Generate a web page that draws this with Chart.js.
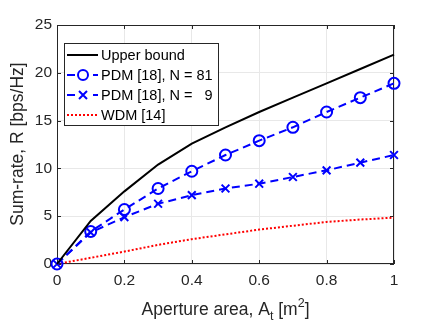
<!DOCTYPE html>
<html>
<head>
<meta charset="utf-8">
<script src="https://cdn.jsdelivr.net/npm/chart.js@4/dist/chart.umd.min.js"></script>
<style>
html, body { margin: 0; padding: 0; background: #fff; }
#wrap { width: 436px; height: 327px; }
</style>
</head>
<body>
<div id="wrap"><canvas id="chart"></canvas></div>
<script>
var aperture = [0, 0.1, 0.2, 0.3, 0.4, 0.5, 0.6, 0.7, 0.8, 0.9, 1];
var upperBound = [0, 4.5, 7.6, 10.4, 12.6, 14.3, 15.9, 17.4, 18.9, 20.4, 21.9];
var pdm81 = [0, 3.4, 5.7, 7.9, 9.7, 11.4, 12.9, 14.3, 15.9, 17.4, 18.9];
var pdm9 = [0, 3.3, 4.9, 6.3, 7.2, 7.9, 8.4, 9.1, 9.8, 10.6, 11.4];
var wdm = [0, 0.65, 1.3, 2.0, 2.6, 3.1, 3.6, 4.0, 4.4, 4.65, 4.85];
var xTicks = [0, 0.2, 0.4, 0.6, 0.8, 1];
var yTicks = [0, 5, 10, 15, 20, 25];
var seriesNames = ['Upper bound', 'PDM [18], N = 81', 'PDM [18], N =   9', 'WDM [14]'];

var FONT = '"Liberation Sans", Arial, sans-serif';
var AXIS = '#262626';

function points(ys) {
    var out = [];
    ys.forEach(function (y, i) {
        out.push({x: aperture[i], y: y});
    });
    return out;
}

// box round the axes with inward ticks, like matlab
var boxPlugin = {
    id: 'box',
    beforeDatasetsDraw: function (chart) {
        var ctx = chart.ctx, a = chart.chartArea;
        var xs = chart.scales.x, ys = chart.scales.y;
        ctx.save();
        ctx.strokeStyle = AXIS;
        ctx.lineWidth = 1;
        ctx.strokeRect(a.left + 0.5, a.top + 0.5, a.right - a.left - 1, a.bottom - a.top - 1);
        ctx.beginPath();
        xTicks.forEach(function (v) {
            var px = Math.round(xs.getPixelForValue(v)) + 0.5;
            ctx.moveTo(px, a.bottom); ctx.lineTo(px, a.bottom - 4);
            ctx.moveTo(px, a.top); ctx.lineTo(px, a.top + 4);
        });
        yTicks.forEach(function (v) {
            var py = Math.round(ys.getPixelForValue(v)) + 0.5;
            ctx.moveTo(a.left, py); ctx.lineTo(a.left + 4, py);
            ctx.moveTo(a.right, py); ctx.lineTo(a.right - 4, py);
        });
        ctx.stroke();
        ctx.restore();
    }
};

// axis titles with sub/superscripts
var titlePlugin = {
    id: 'titles',
    afterDraw: function (chart) {
        var ctx = chart.ctx, a = chart.chartArea;
        ctx.save();
        ctx.fillStyle = AXIS;
        ctx.textBaseline = 'alphabetic';
        var big = '17.5px ' + FONT, small = '12.5px ' + FONT;
        var parts = [
            {t: 'Aperture area, A', f: big, dy: 0},
            {t: 't', f: small, dy: 5},
            {t: ' [m', f: big, dy: 0},
            {t: '2', f: small, dy: -8},
            {t: ']', f: big, dy: 0}
        ];
        var total = 0;
        parts.forEach(function (p) { ctx.font = p.f; total += ctx.measureText(p.t).width; });
        var x = (a.left + a.right) / 2 - total / 2, y = 315;
        parts.forEach(function (p) {
            ctx.font = p.f;
            ctx.textAlign = 'left';
            ctx.fillText(p.t, x, y + p.dy);
            x += ctx.measureText(p.t).width;
        });
        ctx.translate(23, 144);
        ctx.rotate(-Math.PI / 2);
        ctx.font = big;
        ctx.textAlign = 'center';
        ctx.fillText('Sum-rate, R [bps/Hz]', 0, 0);
        ctx.restore();
    }
};

// legend box in the upper left corner
var legendPlugin = {
    id: 'boxLegend',
    afterDraw: function (chart) {
        var ctx = chart.ctx;
        var left = 64, top = 43, w = 154, h = 82;
        ctx.save();
        ctx.fillStyle = '#fff';
        ctx.fillRect(left, top, w, h);
        ctx.strokeStyle = AXIS;
        ctx.lineWidth = 1;
        ctx.strokeRect(left + 0.5, top + 0.5, w, h);
        chart.data.datasets.forEach(function (ds, i) {
            var y = 55 + i * 20;
            ctx.strokeStyle = ds.borderColor;
            ctx.lineWidth = ds.borderWidth;
            ctx.setLineDash(ds.borderDash || []);
            ctx.beginPath();
            ctx.moveTo(67, y); ctx.lineTo(98, y);
            ctx.stroke();
            ctx.setLineDash([]);
            if (ds.pointRadius > 0) {
                ctx.lineWidth = 2;
                ctx.fillStyle = '#fff';
                ctx.fillRect(76, y - 7, 13, 14);
                ctx.beginPath();
                if (ds.pointStyle === 'circle') {
                    ctx.arc(83, y, 5, 0, Math.PI * 2);
                } else {
                    ctx.moveTo(79, y - 4); ctx.lineTo(87, y + 4);
                    ctx.moveTo(79, y + 4); ctx.lineTo(87, y - 4);
                }
                ctx.stroke();
            }
            ctx.fillStyle = '#000';
            ctx.font = '14.5px ' + FONT;
            ctx.textAlign = 'left';
            ctx.textBaseline = 'middle';
            ctx.fillText(ds.label, 101, y + 1);
        });
        ctx.restore();
    }
};

var config = {
    type: 'line',
    data: {
        datasets: [{
            label: seriesNames[0],
            data: points(upperBound),
            borderColor: '#000',
            borderWidth: 2,
            pointRadius: 0,
            clip: false
        }, {
            label: seriesNames[1],
            data: points(pdm81),
            borderColor: '#0000ff',
            borderWidth: 2,
            borderDash: [8, 5],
            pointStyle: 'circle',
            pointRadius: 5.5,
            pointBorderWidth: 2,
            pointBorderColor: '#0000ff',
            pointBackgroundColor: 'rgba(0,0,0,0)',
            clip: false
        }, {
            label: seriesNames[2],
            data: points(pdm9),
            borderColor: '#0000ff',
            borderWidth: 2,
            borderDash: [8, 5],
            pointStyle: 'crossRot',
            pointRadius: 5.5,
            pointBorderWidth: 2,
            pointBorderColor: '#0000ff',
            clip: false
        }, {
            label: seriesNames[3],
            data: points(wdm),
            borderColor: '#ff0000',
            borderWidth: 2,
            borderDash: [2, 2],
            pointRadius: 0,
            clip: false
        }]
    },
    options: {
        responsive: true,
        maintainAspectRatio: false,
        animation: false,
        layout: { padding: { left: 0, top: 25, right: 42, bottom: 0 } },
        plugins: {
            legend: { display: false },
            tooltip: { enabled: false }
        },
        scales: {
            x: {
                type: 'linear',
                min: 0,
                max: 1,
                afterFit: function (s) { s.height = 63; },
                afterBuildTicks: function (s) {
                    s.ticks = xTicks.map(function (v) { return {value: v}; });
                },
                ticks: {
                    color: AXIS,
                    font: { family: FONT, size: 15.5 },
                    padding: 7,
                    maxRotation: 0,
                    callback: function (v) { return String(v); }
                },
                grid: { color: '#e8e8e8', drawTicks: false },
                border: { display: false }
            },
            y: {
                min: 0,
                max: 25,
                afterFit: function (s) { s.width = 57; },
                afterBuildTicks: function (s) {
                    s.ticks = yTicks.map(function (v) { return {value: v}; });
                },
                ticks: {
                    color: AXIS,
                    font: { family: FONT, size: 15.5 },
                    padding: 5
                },
                grid: { color: '#e8e8e8', drawTicks: false },
                border: { display: false }
            }
        }
    },
    plugins: [boxPlugin, titlePlugin, legendPlugin]
};

new Chart(document.getElementById('chart'), config);
</script>
</body>
</html>
